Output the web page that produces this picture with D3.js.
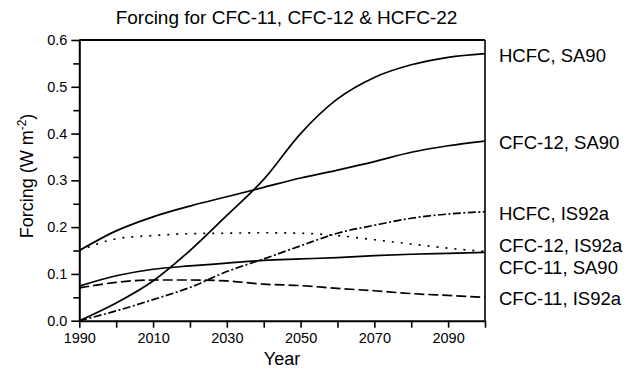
<!DOCTYPE html>
<html lang="en">
<head>
<meta charset="UTF-8">
<title>Forcing for CFC-11, CFC-12 & HCFC-22</title>
<script src="https://d3js.org/d3.v7.min.js"></script>
<style>
  body { margin: 0; background: #fff; }
  svg { display: block; font-family: "Liberation Sans", Arial, Helvetica, sans-serif; }
  .axis path, .axis line { stroke: #000; }
  .axis text { font-size: 14.5px; fill: #000; }
  .series { fill: none; stroke: #000; stroke-width: 1.7; }
</style>
</head>
<body>
<svg width="638" height="373"></svg>
<script>
// data
const years = [1990, 2000, 2010, 2020, 2030, 2040, 2050, 2060, 2070, 2080, 2090, 2100];
const hcfcSA90   = [0, 0.038, 0.085, 0.150, 0.225, 0.302, 0.400, 0.474, 0.520, 0.547, 0.563, 0.571];
const cfc12SA90  = [0.150, 0.192, 0.222, 0.245, 0.265, 0.285, 0.305, 0.322, 0.340, 0.360, 0.374, 0.384];
const hcfcIS92a  = [0, 0.021, 0.045, 0.071, 0.105, 0.132, 0.160, 0.187, 0.204, 0.219, 0.228, 0.233];
const cfc12IS92a = [0.150, 0.175, 0.182, 0.186, 0.187, 0.188, 0.187, 0.182, 0.173, 0.164, 0.155, 0.148];
const cfc11SA90  = [0.074, 0.096, 0.110, 0.117, 0.123, 0.129, 0.132, 0.135, 0.139, 0.142, 0.144, 0.146];
const cfc11IS92a = [0.070, 0.082, 0.087, 0.087, 0.085, 0.078, 0.075, 0.069, 0.064, 0.058, 0.054, 0.050];
const seriesNames = ["HCFC, SA90", "CFC-12, SA90", "HCFC, IS92a", "CFC-12, IS92a", "CFC-11, SA90", "CFC-11, IS92a"];
const yTicks = [0, 0.05, 0.1, 0.15, 0.2, 0.25, 0.3, 0.35, 0.4, 0.45, 0.5, 0.55, 0.6];
const xTicks = [1990, 2000, 2010, 2020, 2030, 2040, 2050, 2060, 2070, 2080, 2090, 2100];
const xLabelled = [1990, 2010, 2030, 2050, 2070, 2090];

const allSeries = [hcfcSA90, cfc12SA90, hcfcIS92a, cfc12IS92a, cfc11SA90, cfc11IS92a];
const dashes = [null, null, "8,2.5,2,2.5", "2,7", null, "10,4"];
// the two labels ending near 0.147 get pushed apart
const labelNudge = [0, 0, 0, -7, 13.5, 0];

const svg = d3.select("svg");
const x = d3.scaleLinear().domain([1990, 2100]).range([79.3, 485]);
const y = d3.scaleLinear().domain([0, 0.6]).range([320.7, 40]);

// title
svg.append("text")
   .attr("x", 286.5).attr("y", 24)
   .attr("text-anchor", "middle")
   .style("font-size", "19px")
   .text("Forcing for CFC-11, CFC-12 & HCFC-22");

// frame top + right
svg.append("line").attr("x1", x(1990)).attr("x2", x(2100)).attr("y1", y(0.6)).attr("y2", y(0.6))
   .attr("stroke", "#000").attr("stroke-width", 2);
svg.append("line").attr("x1", x(2100)).attr("x2", x(2100)).attr("y1", y(0.6)).attr("y2", y(0))
   .attr("stroke", "#000").attr("stroke-width", 1.6);

// y axis
const yAxis = svg.append("g").attr("class", "axis")
   .attr("transform", `translate(${x(1990)},0)`)
   .call(d3.axisLeft(y).tickValues(yTicks).tickSizeOuter(0)
     .tickFormat(d => Math.round(d * 100) % 10 === 0 ? d3.format(".1f")(d) : ""));
yAxis.select(".domain").attr("stroke-width", 2);
yAxis.selectAll(".tick line").attr("stroke-width", 1.6)
   .attr("x2", d => Math.round(d * 100) % 10 === 0 ? -8 : -6);
yAxis.selectAll(".tick text").attr("x", -12);

// x axis
const xAxis = svg.append("g").attr("class", "axis")
   .attr("transform", `translate(0,${y(0)})`)
   .call(d3.axisBottom(x).tickValues(xTicks).tickSize(7).tickSizeOuter(0)
     .tickFormat(d => xLabelled.includes(d) ? d : ""));
xAxis.select(".domain").attr("stroke-width", 2);
xAxis.selectAll(".tick line").attr("stroke-width", 1.6);
xAxis.selectAll(".tick text").attr("y", 12);

// axis titles
svg.append("text")
   .attr("x", 282).attr("y", 365)
   .attr("text-anchor", "middle")
   .style("font-size", "18px")
   .text("Year");

const yl = svg.append("text")
   .attr("transform", "translate(33,176) rotate(-90)")
   .attr("text-anchor", "middle")
   .style("font-size", "18px");
yl.append("tspan").text("Forcing (W m");
yl.append("tspan").attr("dy", -7).style("font-size", "12px").text("-2");
yl.append("tspan").attr("dy", 7).text(")");

// lines
const line = d3.line()
   .x((d, i) => x(years[i]))
   .y(d => y(d))
   .curve(d3.curveMonotoneX);

allSeries.forEach((vals, i) => {
  svg.append("path")
     .datum(vals)
     .attr("class", "series")
     .attr("d", line)
     .attr("stroke-dasharray", dashes[i]);

  svg.append("text")
     .attr("x", 499)
     .attr("y", y(vals[vals.length - 1]) + 8 + labelNudge[i])
     .style("font-size", "18.5px")
     .text(seriesNames[i]);
});
</script>
</body>
</html>
